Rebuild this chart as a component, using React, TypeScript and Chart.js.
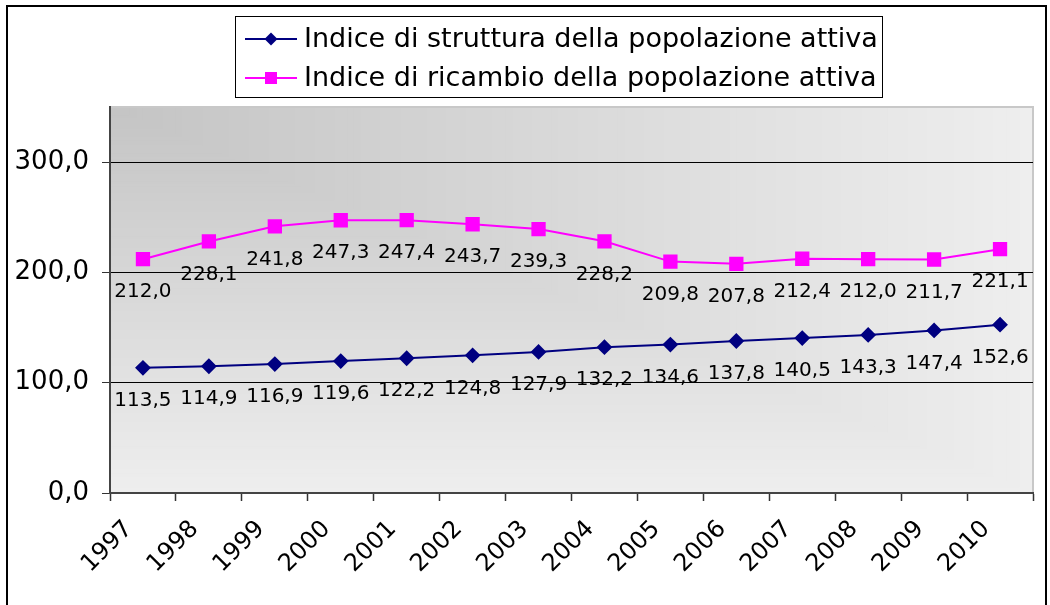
import React, { useEffect, useRef } from "react";
import { Chart, registerables } from "chart.js";

Chart.register(...registerables);

const years = ["1997", "1998", "1999", "2000", "2001", "2002", "2003", "2004", "2005", "2006", "2007", "2008", "2009", "2010"];
const struttura = [113.5, 114.9, 116.9, 119.6, 122.2, 124.8, 127.9, 132.2, 134.6, 137.8, 140.5, 143.3, 147.4, 152.6];
const ricambio = [212.0, 228.1, 241.8, 247.3, 247.4, 243.7, 239.3, 228.2, 209.8, 207.8, 212.4, 212.0, 211.7, 221.1];
const seriesNames = ["Indice di struttura della popolazione attiva", "Indice di ricambio della popolazione attiva"];
const yMin = 0;
const yMax = 350;
const yStep = 100;

const FONT = "'DejaVu Sans', Verdana, sans-serif";
const fmt = (v: number) => v.toFixed(1).replace(".", ",");

const backgroundPlugin = {
  id: "bgPlugin",
  beforeDraw(chart: any) {
    const { ctx, chartArea } = chart;
    const { left, top, right, bottom } = chartArea;
    const W = right - left;
    const H = bottom - top;
    ctx.save();
    const N = 140;
    for (let i = N; i >= 1; i--) {
      const t = i / N;
      const c = Math.round(196 + 42 * Math.min(1, t));
      ctx.fillStyle = `rgb(${c},${c},${c})`;
      ctx.fillRect(left, top, W * t, H * t);
    }
    ctx.strokeStyle = "#c8c8c8";
    ctx.lineWidth = 2;
    ctx.beginPath();
    ctx.moveTo(left, top);
    ctx.lineTo(right, top);
    ctx.lineTo(right, bottom);
    ctx.stroke();
    ctx.strokeStyle = "#000";
    ctx.lineWidth = 2;
    ctx.strokeRect(7, 6, 1039, 700);
    ctx.restore();
  },
};

const labelPlugin = {
  id: "valueLabels",
  afterDatasetsDraw(chart: any) {
    const { ctx } = chart;
    ctx.save();
    ctx.font = `20px ${FONT}`;
    ctx.fillStyle = "#000";
    ctx.textAlign = "center";
    ctx.textBaseline = "middle";
    chart.data.datasets.forEach((ds: any, di: number) => {
      const meta = chart.getDatasetMeta(di);
      meta.data.forEach((pt: any, i: number) => {
        ctx.fillText(fmt(ds.data[i]), pt.x, pt.y + 33);
      });
    });
    ctx.restore();
  },
};

const legendPlugin = {
  id: "boxLegend",
  afterDraw(chart: any) {
    const { ctx } = chart;
    ctx.save();
    ctx.strokeStyle = "#000";
    ctx.lineWidth = 1;
    ctx.strokeRect(235.5, 16.5, 647, 81);
    const rows = [39, 78];
    chart.data.datasets.forEach((ds: any, di: number) => {
      const y = rows[di];
      ctx.strokeStyle = ds.borderColor;
      ctx.lineWidth = 2;
      ctx.beginPath();
      ctx.moveTo(245, y);
      ctx.lineTo(297, y);
      ctx.stroke();
      ctx.fillStyle = ds.backgroundColor;
      if (ds.pointStyle === "rectRot") {
        ctx.beginPath();
        ctx.moveTo(271, y - 6.5);
        ctx.lineTo(277.5, y);
        ctx.lineTo(271, y + 6.5);
        ctx.lineTo(264.5, y);
        ctx.closePath();
        ctx.fill();
      } else {
        ctx.fillRect(265, y - 6, 12, 12);
      }
      ctx.fillStyle = "#000";
      ctx.font = `27px ${FONT}`;
      ctx.textAlign = "left";
      ctx.textBaseline = "middle";
      ctx.fillText(ds.label, 304, y + 1);
    });
    ctx.restore();
  },
};

export default function App() {
  const ref = useRef<HTMLCanvasElement | null>(null);
  useEffect(() => {
    if (!ref.current) return;
    const chart = new Chart(ref.current, {
      type: "line",
      data: {
        labels: years,
        datasets: [
          {
            label: seriesNames[0],
            data: struttura,
            borderColor: "#000080",
            backgroundColor: "#000080",
            borderWidth: 2,
            pointStyle: "rectRot",
            pointRadius: 6.5,
            pointHoverRadius: 6.5,
            tension: 0,
          },
          {
            label: seriesNames[1],
            data: ricambio,
            borderColor: "#FF00FF",
            backgroundColor: "#FF00FF",
            borderWidth: 2,
            pointStyle: "rect",
            pointRadius: 8.7,
            pointHoverRadius: 8.7,
            tension: 0,
          },
        ],
      },
      plugins: [backgroundPlugin, labelPlugin, legendPlugin],
      options: {
        animation: false,
        responsive: false,
        events: [],
        layout: { padding: { left: 0, right: 17, top: 107, bottom: 0 } },
        plugins: {
          legend: { display: false },
          tooltip: { enabled: false },
        },
        scales: {
          x: {
            type: "category",
            offset: true,
            afterFit: (s: any) => {
              s.height = 112;
            },
            grid: {
              offset: true,
              drawOnChartArea: false,
              drawTicks: true,
              tickLength: 8,
              tickColor: "#333",
              tickWidth: 1.5,
            },
            border: { display: true, color: "#444", width: 2 },
            ticks: {
              maxRotation: 45,
              minRotation: 45,
              autoSkip: false,
              color: "#000",
              padding: 14,
              labelOffset: -14,
              font: { family: FONT, size: 24 },
            },
          },
          y: {
            min: yMin,
            max: yMax,
            afterFit: (s: any) => {
              s.width = 110;
            },
            afterBuildTicks: (s: any) => {
              s.ticks = s.ticks.filter((t: any) => t.value <= 300);
            },
            grid: {
              color: (c: any) => (c.tick && c.tick.value === 0 ? "rgba(0,0,0,0)" : "#000"),
              lineWidth: 1,
              drawTicks: true,
              tickLength: 8,
              tickColor: "#333",
            },
            border: { display: true, color: "#444", width: 2 },
            ticks: {
              stepSize: yStep,
              color: "#000",
              padding: 13,
              font: { family: FONT, size: 26 },
              callback: (v: any) => fmt(Number(v)),
            },
          },
        },
      },
    } as any);
    return () => chart.destroy();
  }, []);
  return (
    <div style={{ position: "absolute", left: 0, top: 0, width: 1050, height: 605, background: "#fff" }}>
      <canvas ref={ref} width={1050} height={605} style={{ display: "block" }} />
    </div>
  );
}
